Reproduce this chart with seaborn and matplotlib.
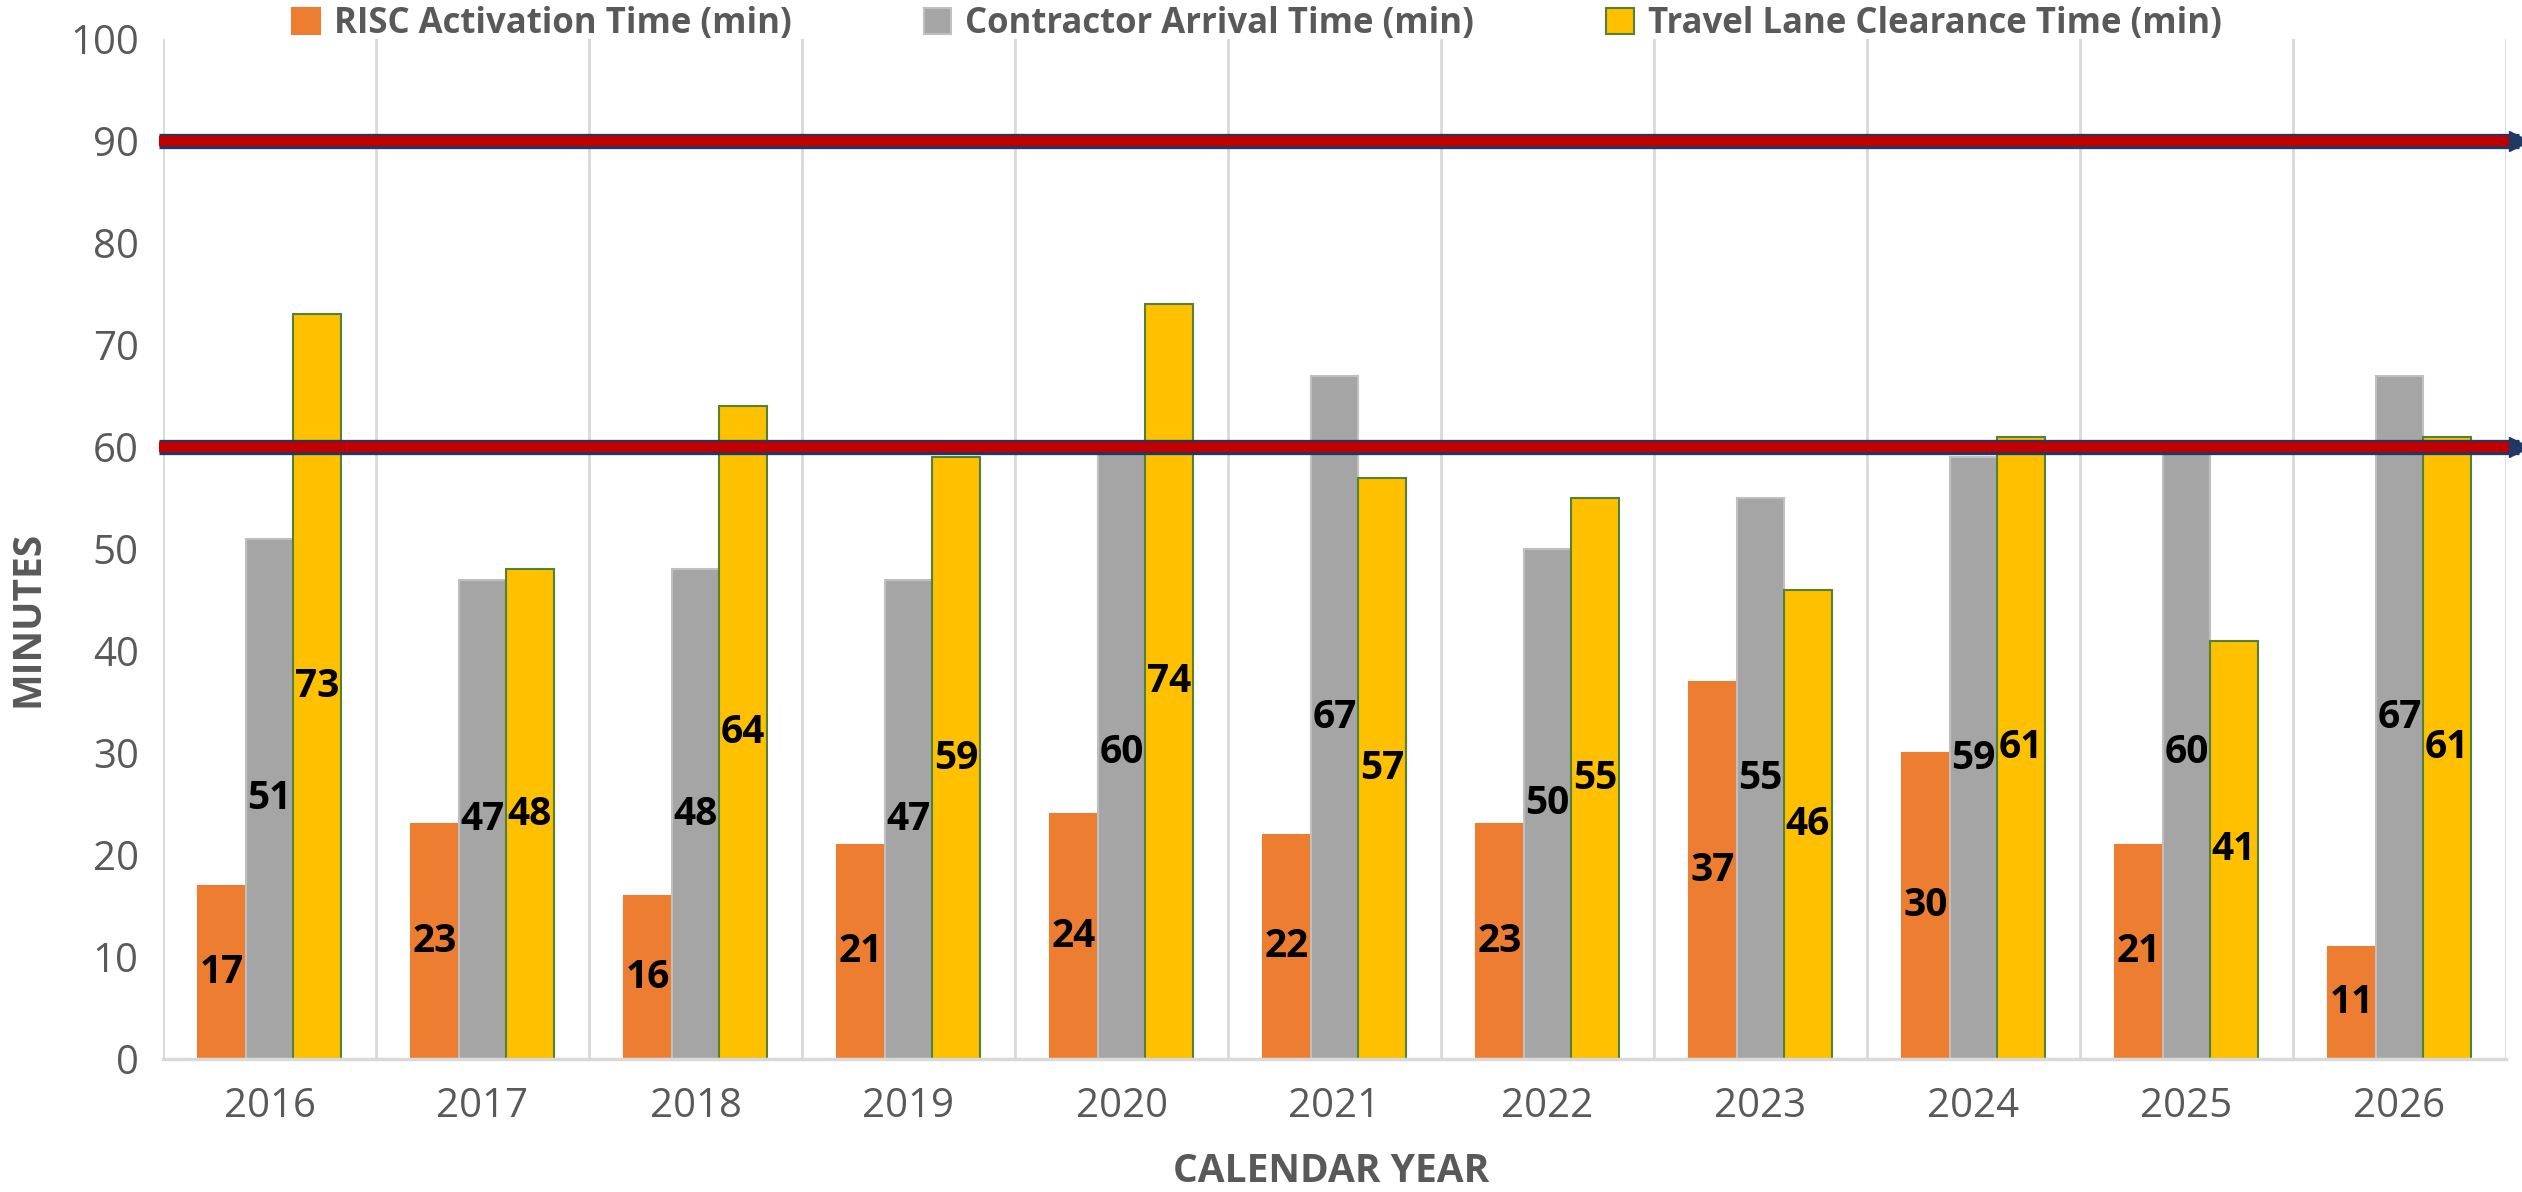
import matplotlib
matplotlib.use("Agg")
import matplotlib.pyplot as plt
import seaborn as sns
import pandas as pd
from matplotlib.patches import Patch

# data
years = ["2016", "2017", "2018", "2019", "2020", "2021", "2022", "2023", "2024", "2025", "2026"]
risc = [17, 23, 16, 21, 24, 22, 23, 37, 30, 21, 11]
contractor = [51, 47, 48, 47, 60, 67, 50, 55, 59, 60, 67]
clearance = [73, 48, 64, 59, 74, 57, 55, 46, 61, 41, 61]
series = ["RISC Activation Time (min)", "Contractor Arrival Time (min)",
          "Travel Lane Clearance Time (min)"]
thresholds = [60, 90]

colors = ["#ED7D31", "#A5A5A5", "#FFC000"]
edges = ["#ED7D31", "#BFBFBF", "#548235"]
grey_txt = "#595959"
grid_c = "#D9D9D9"

df = pd.DataFrame({
    "year": years * 3,
    "minutes": risc + contractor + clearance,
    "series": [series[0]] * len(years) + [series[1]] * len(years) + [series[2]] * len(years),
})

sns.set_style("white")
plt.rcParams["font.family"] = ["Open Sans", "DejaVu Sans"]

fig = plt.figure(figsize=(25.22, 11.92), dpi=100)
ax = fig.add_axes([163 / 2522, 1 - 1059 / 1192, (2506 - 163) / 2522, (1059 - 39) / 1192])

sns.barplot(data=df, x="year", y="minutes", hue="series", palette=colors,
            width=0.667, gap=0, ax=ax, legend=False, saturation=1)

for cont, ec in zip(ax.containers, edges):
    for p in cont:
        p.set_edgecolor(ec)
        p.set_linewidth(1.5)
    ax.bar_label(cont, label_type="center", fontsize=28, fontweight="bold", color="black")

ax.set_ylim(0, 100)
ax.set_xlim(-0.5, len(years) - 0.5)
ax.set_yticks(range(0, 101, 10))
ax.set_xticks(range(len(years)), years)
ax.set_xticks([i - 0.5 for i in range(len(years) + 1)], minor=True)
ax.grid(False)
ax.grid(True, which="minor", axis="x", color=grid_c, lw=2)
ax.set_axisbelow(True)
ax.tick_params(axis="y", which="major", length=9.5, width=2, color=grid_c,
               labelsize=29, labelcolor=grey_txt, pad=8)
ax.tick_params(axis="x", which="major", length=0, labelsize=29, labelcolor=grey_txt, pad=20)
ax.tick_params(axis="x", which="minor", length=0)
for s in ["top", "right", "left"]:
    ax.spines[s].set_visible(False)
ax.spines["bottom"].set_color(grid_c)
ax.spines["bottom"].set_linewidth(2.5)
ax.set_xlabel("")
ax.set_ylabel("")

# threshold lines
x0, x1 = -0.52, len(years) - 0.44
for t in thresholds:
    ax.plot([x0, x1], [t, t], color="#1F3864", lw=11, solid_capstyle="butt", clip_on=False, zorder=5)
    ax.plot([x0, x1], [t, t], color="#C00000", lw=7.5, solid_capstyle="butt", clip_on=False, zorder=6)
    ax.plot([x1], [t], marker=">", color="#1F3864", markersize=14, clip_on=False, zorder=7)

fig.text(1331 / 2522, 1 - 1172 / 1192, "CALENDAR YEAR", ha="center", va="center",
         fontsize=28, fontweight="bold", color=grey_txt)
fig.text(28 / 2522, 1 - 619 / 1192, "MINUTES", ha="center", va="center", rotation=90,
         fontsize=28, fontweight="bold", color=grey_txt)

handles = [Patch(facecolor=c, edgecolor=e, lw=1.5) for c, e in zip(colors, edges)]
fig.legend(handles, series, loc="center", bbox_to_anchor=(1257 / 2522, 1 - 24 / 1192),
           ncol=3, frameon=False, handlelength=0.8, handleheight=0.8, handletextpad=0.4,
           columnspacing=3.8, prop={"size": 25, "weight": "bold"}, labelcolor=grey_txt)

fig.savefig("out.png", dpi=100)
